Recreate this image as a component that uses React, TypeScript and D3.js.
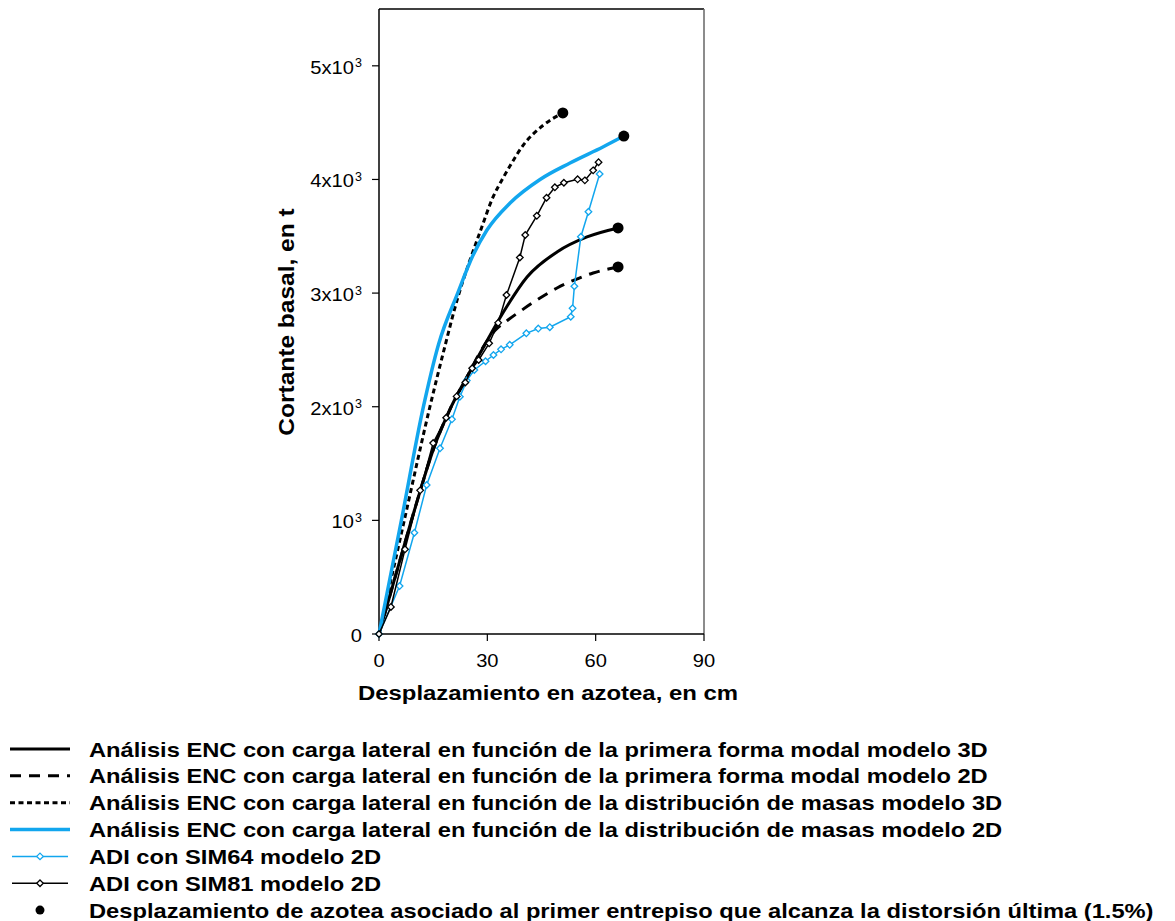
import React from "react";
import * as d3 from "d3";

type P = [number, number];

// ENC, first modal shape, 3D model (solid black)
const encModal3D: P[] = [
  [0, 0], [5, 560], [10, 1110], [15, 1620], [20, 2000], [25, 2300], [28.8, 2517],
  [34.3, 2825], [41, 3142], [49.3, 3362], [57.6, 3494], [66.2, 3573],
];
// ENC, first modal shape, 2D model (dashed black)
const encModal2D: P[] = [
  [0, 0], [5, 560], [10, 1110], [15, 1620], [20, 2000], [25, 2300], [28, 2480],
  [32.1, 2670], [35.7, 2763], [39.6, 2851], [44.6, 2957], [49.3, 3045], [53.7, 3110],
  [59.3, 3177], [66.2, 3230],
];
// ENC, mass distribution, 3D model (short dashed black)
const encMass3D: P[] = [
  [0, 0], [7, 1000], [14.1, 2000], [18, 2500], [22, 2980], [25.2, 3291], [28, 3540],
  [31.6, 3846], [34.3, 4010], [36.3, 4120], [39.9, 4300], [45.4, 4475], [50.9, 4585],
];
// ENC, mass distribution, 2D model (solid blue)
const encMass2D: P[] = [
  [0, 0], [6.2, 1000], [12.3, 2000], [16.5, 2550], [21.8, 3000], [26, 3330], [29.9, 3555],
  [36.3, 3793], [44.6, 4000], [52.9, 4145], [62, 4286], [67.8, 4382],
];
// ADI SIM64 2D (blue diamonds)
const adiSim64: P[] = [
  [0, 0], [5.7, 422], [9.8, 891], [13.2, 1311], [16.9, 1634], [20.2, 1889], [22.4, 2088],
  [24.3, 2230], [26.4, 2323], [29.5, 2400], [31.7, 2455], [33.8, 2505], [36.2, 2545],
  [40.8, 2646], [44.1, 2688], [47.3, 2700], [53.1, 2792], [53.6, 2866], [54.1, 3060],
  [55.9, 3496], [58, 3716], [61.1, 4048],
];
// ADI SIM81 2D (black diamonds)
const adiSim81: P[] = [
  [0, 0], [3.3, 238], [7.2, 745], [11.4, 1264], [15, 1680], [18.6, 1903], [21.5, 2091],
  [23.9, 2213], [25.8, 2338], [27.6, 2411], [30.5, 2558], [33, 2738], [35.3, 2983],
  [39, 3313], [40.5, 3511], [43.7, 3680], [46.4, 3839], [48.7, 3931], [51.2, 3971],
  [55, 4001], [57, 3992], [59.3, 4080], [60.8, 4152],
];
// Ultimate drift points
const ultimatePoints: P[] = [
  [50.9, 4585], [67.8, 4382], [66.2, 3573], [66.2, 3230],
];

const xTicks = [0, 30, 60, 90];
const yTicks = [0, 1000, 2000, 3000, 4000, 5000];
const yTickBase = ["0", "10", "2x10", "3x10", "4x10", "5x10"];
const yTickExp = ["", "3", "3", "3", "3", "3"];

const xTitle = "Desplazamiento en azotea, en cm";
const yTitle = "Cortante basal, en t";

const legendLabels = [
  "Análisis ENC con carga lateral en función de la primera forma modal modelo 3D",
  "Análisis ENC con carga lateral en función de la primera forma modal modelo 2D",
  "Análisis ENC con carga lateral en función de la distribución de masas modelo 3D",
  "Análisis ENC con carga lateral en función de la distribución de masas modelo 2D",
  "ADI con SIM64 modelo 2D",
  "ADI con SIM81 modelo 2D",
  "Desplazamiento de azotea asociado al primer entrepiso que alcanza la distorsión última (1.5%)",
];

const BLUE = "#12a6ee";
const FONT = "Arial, 'Liberation Sans', sans-serif";
const SX_BOLD = 1.14;
const SX_LEGEND = 1.128;
const SX_TICK = 1.06;

export default function App() {
  const W = 1175, H = 921;
  const L = 379, R = 704, T = 9, B = 634;
  const x = d3.scaleLinear().domain([0, 90]).range([L, R]);
  const y = d3.scaleLinear().domain([0, 5500]).range([B, T]);

  const smooth = d3.line<P>().x(d => x(d[0])).y(d => y(d[1])).curve(d3.curveMonotoneX);
  const straight = d3.line<P>().x(d => x(d[0])).y(d => y(d[1]));

  const diamond = (cx: number, cy: number, s = 3.3) =>
    `M${cx},${cy - s}L${cx + s},${cy}L${cx},${cy + s}L${cx - s},${cy}Z`;

  const legendY = (i: number) => 749 + i * 26.85;
  const lx0 = 10, lx1 = 70, lxm = 40;

  return (
    <svg width={W} height={H} style={{ position: "absolute", left: 0, top: 0, background: "#fff" }}
      fontFamily={FONT}>
      <rect x={0} y={0} width={W} height={H} fill="#fff" />
      {/* frame */}
      <line x1={L} y1={T} x2={R} y2={T} stroke="#000" strokeWidth={1.5} />
      <line x1={R} y1={T} x2={R} y2={B} stroke="#666" strokeWidth={1.5} />
      <line x1={L} y1={T} x2={L} y2={B} stroke="#000" strokeWidth={1.5} />
      <line x1={L} y1={B} x2={R} y2={B} stroke="#000" strokeWidth={1.5} />

      {/* y ticks */}
      {yTicks.map((t, i) => (
        <g key={"y" + t}>
          <line x1={L - 7} x2={L} y1={y(t)} y2={y(t)} stroke="#000" strokeWidth={1.2} />
          <text transform={`translate(${yTickExp[i] ? L - 25 : L - 17},${y(t) + 8}) scale(${SX_TICK},1)`}
            textAnchor="end" fontSize={19} fill="#000">
            {yTickBase[i]}
          </text>
          {yTickExp[i] && (
            <text transform={`translate(${L - 24},${y(t) + 1.5})`} textAnchor="start" fontSize={12.5} fill="#000">{yTickExp[i]}</text>
          )}
        </g>
      ))}
      {/* x ticks */}
      {xTicks.map(t => (
        <g key={"x" + t}>
          <line x1={x(t)} x2={x(t)} y1={B} y2={B + 7} stroke="#000" strokeWidth={1.2} />
          <text transform={`translate(${x(t)},${B + 33}) scale(${SX_TICK},1)`} textAnchor="middle" fontSize={19} fill="#000">{t}</text>
        </g>
      ))}

      <text transform={`translate(548,700) scale(${SX_BOLD},1)`} textAnchor="middle" fontSize={21} fontWeight="bold" fill="#000">{xTitle}</text>
      <text transform={`translate(294,322) rotate(-90) scale(${SX_BOLD},1)`} textAnchor="middle" fontSize={21.5} fontWeight="bold" fill="#000">{yTitle}</text>

      {/* ENC curves */}
      <path d={smooth(encModal3D) || ""} fill="none" stroke="#000" strokeWidth={3} />
      <path d={smooth(encModal2D) || ""} fill="none" stroke="#000" strokeWidth={3} strokeDasharray="11,8" />
      <path d={smooth(encMass3D) || ""} fill="none" stroke="#000" strokeWidth={3} strokeDasharray="5,3.5" />
      <path d={smooth(encMass2D) || ""} fill="none" stroke={BLUE} strokeWidth={3.5} />

      {/* ADI curves */}
      <path d={straight(adiSim64) || ""} fill="none" stroke={BLUE} strokeWidth={1.5} />
      {adiSim64.map((p, i) => (
        <path key={"b" + i} d={diamond(x(p[0]), y(p[1]))} fill="#fff" stroke={BLUE} strokeWidth={1.3} />
      ))}
      <path d={straight(adiSim81) || ""} fill="none" stroke="#000" strokeWidth={1.5} />
      {adiSim81.map((p, i) => (
        <path key={"k" + i} d={diamond(x(p[0]), y(p[1]))} fill="#fff" stroke="#000" strokeWidth={1.3} />
      ))}

      {ultimatePoints.map((p, i) => (
        <circle key={"u" + i} cx={x(p[0])} cy={y(p[1])} r={5.5} fill="#000" />
      ))}

      {/* legend */}
      <g>
        <line x1={lx0} x2={lx1} y1={legendY(0)} y2={legendY(0)} stroke="#000" strokeWidth={3} />
        <line x1={lx0} x2={lx1} y1={legendY(1)} y2={legendY(1)} stroke="#000" strokeWidth={3} strokeDasharray="11,8" />
        <line x1={lx0} x2={lx1} y1={legendY(2)} y2={legendY(2)} stroke="#000" strokeWidth={3} strokeDasharray="5,3.5" />
        <line x1={lx0} x2={lx1} y1={legendY(3)} y2={legendY(3)} stroke={BLUE} strokeWidth={3.5} />
        <line x1={lx0 + 2} x2={lx1 - 2} y1={legendY(4)} y2={legendY(4)} stroke={BLUE} strokeWidth={1.5} />
        <path d={diamond(lxm, legendY(4))} fill="#fff" stroke={BLUE} strokeWidth={1.3} />
        <line x1={lx0 + 2} x2={lx1 - 2} y1={legendY(5)} y2={legendY(5)} stroke="#000" strokeWidth={1.5} />
        <path d={diamond(lxm, legendY(5))} fill="#fff" stroke="#000" strokeWidth={1.3} />
        <circle cx={lxm} cy={legendY(6)} r={4.5} fill="#000" />
        {legendLabels.map((s, i) => (
          <text key={"l" + i} transform={`translate(89,${legendY(i) + 7.5}) scale(${SX_LEGEND},1)`}
            fontSize={21} fontWeight="bold" fill="#000">{s}</text>
        ))}
      </g>
    </svg>
  );
}
